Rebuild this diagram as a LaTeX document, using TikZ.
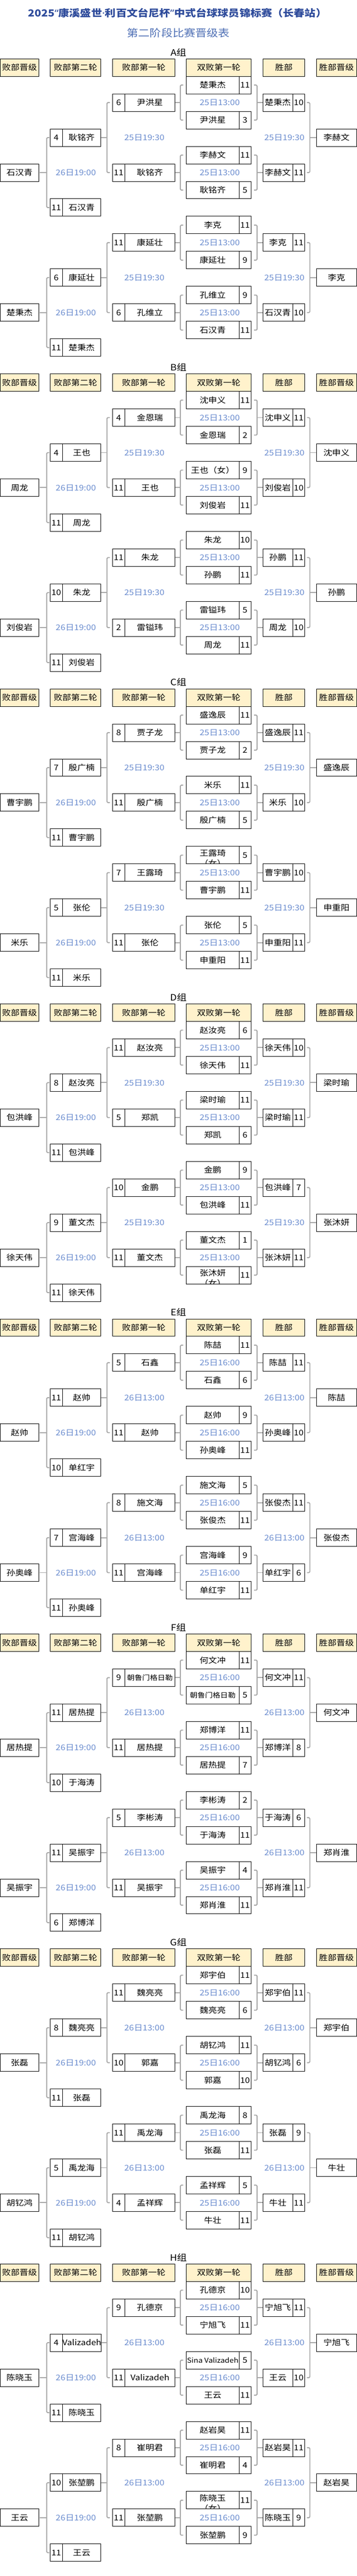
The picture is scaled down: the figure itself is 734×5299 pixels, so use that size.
\documentclass[tikz,border=0pt]{standalone}
\usepackage{fontspec}
\setmainfont{Noto Sans CJK SC}[FakeStretch=1.12]
\newfontfamily\latinfont{Noto Sans}[FakeStretch=1.12]
\definecolor{hdrcol}{HTML}{FFF2CC}
\definecolor{conncol}{HTML}{A6A6A6}
\definecolor{tmcol}{HTML}{6A8CCF}
\definecolor{ttlcol}{HTML}{2E4B9B}
\definecolor{subcol}{HTML}{4F70B5}
\newcommand\cellfont{\fontsize{16}{18}\selectfont}
\newcommand\smallcell{\fontsize{14}{16}\selectfont}
\newcommand\RowY[1]{139+648*\G+36*(#1)}
\def\G{0}
\def\tD{25日13:00}
\def\tM{25日19:30}
\tikzset{
  cellbox/.style={draw=black, line width=0.9pt, inner sep=0pt, outer sep=0pt, minimum height=36pt, anchor=west, font=\cellfont, text height=12pt, text depth=0pt},
  hdrbox/.style={cellbox, fill=hdrcol},
  txt/.style={inner sep=0pt, outer sep=0pt, font=\cellfont, text height=12pt, text depth=0pt},
  tmlabel/.style={txt, text=tmcol},
  conn/.style={draw=conncol, line width=2pt},
  brk/.style={conn, rounded corners=2pt},
  grplabel/.style={inner sep=0pt, font=\fontsize{18}{20}\selectfont, text height=13pt, text depth=0pt},
}
\newcommand\GroupHead[1]{%
  \node[grplabel] (lbl\G) at (367,{108+648*\G}) {#1组};
  \node[hdrbox, minimum width=79.5pt] (hA\G) at (0.5,{\RowY{0}}) {败部晋级};
  \node[hdrbox, minimum width=104.6pt] (hB\G) at (103,{\RowY{0}}) {败部第二轮};
  \node[hdrbox, minimum width=128.5pt] (hC\G) at (231.5,{\RowY{0}}) {败部第一轮};
  \node[hdrbox, minimum width=133pt] (hD\G) at (383.5,{\RowY{0}}) {双败第一轮};
  \node[hdrbox, minimum width=86pt] (hE\G) at (541,{\RowY{0}}) {胜部};
  \node[hdrbox, minimum width=82.5pt] (hF\G) at (651,{\RowY{0}}) {胜部晋级};
}
% #1 row k of first double-loss cell, #2/#3 name/score, #4/#5 name/score, #6/#7 loser-round-1 score/name, #8/#9 winner name/score
\newcommand\Quarter[9]{%
  \node[cellbox, minimum width=108.2pt] (dn\G-#1a) at (383.5,{\RowY{#1}}) {#2};
  \node[cellbox, minimum width=24.8pt] (ds\G-#1a) at (491.7,{\RowY{#1}}) {#3};
  \node[cellbox, minimum width=108.2pt] (dn\G-#1b) at (383.5,{\RowY{#1+2}}) {#4};
  \node[cellbox, minimum width=24.8pt] (ds\G-#1b) at (491.7,{\RowY{#1+2}}) {#5};
  \node[tmlabel] (td\G-#1) at (452,{\RowY{#1+1}}) {\tD};
  \node[cellbox, minimum width=25.3pt] (ls\G-#1) at (231.5,{\RowY{#1+1}}) {#6};
  \node[cellbox, minimum width=103.2pt] (ln\G-#1) at (256.8,{\RowY{#1+1}}) {#7};
  \node[cellbox, minimum width=61pt] (wn\G-#1) at (541,{\RowY{#1+1}}) {#8};
  \node[cellbox, minimum width=25pt] (ws\G-#1) at (602,{\RowY{#1+1}}) {#9};
  \draw[brk] ([xshift=-6.5pt]dn\G-#1a.west) -- ++(-6,0) |- ([xshift=-6.5pt]dn\G-#1b.west);
  \draw[conn] (ln\G-#1.east) -- ([xshift=-12.5pt]dn\G-#1a.west |- ln\G-#1.east);
  \draw[brk] ([xshift=6pt]ds\G-#1a.east) -- ++(6.5,0) |- ([xshift=6pt]ds\G-#1b.east);
  \draw[conn] ([xshift=12.5pt]ds\G-#1a.east |- wn\G-#1.west) -- (wn\G-#1.west);
}
% #1 base row b, #2/#3 loser-round-2 upper score/name, #4 winner-advance name, #5 loser-advance name, #6/#7 loser-round-2 lower score/name
\newcommand\Half[7]{%
  \pgfmathtruncatemacro\ka{#1+1}%
  \pgfmathtruncatemacro\kb{#1+5}%
  \node[cellbox, minimum width=25.4pt] (as\G-#1) at (103,{\RowY{#1+4}}) {#2};
  \node[cellbox, minimum width=79.2pt] (an\G-#1) at (128.4,{\RowY{#1+4}}) {#3};
  \node[cellbox, minimum width=25.4pt] (bs\G-#1) at (103,{\RowY{#1+8}}) {#6};
  \node[cellbox, minimum width=79.2pt] (bn\G-#1) at (128.4,{\RowY{#1+8}}) {#7};
  \node[cellbox, minimum width=82.5pt] (wj\G-#1) at (651,{\RowY{#1+4}}) {#4};
  \node[cellbox, minimum width=79.5pt] (lj\G-#1) at (0.5,{\RowY{#1+6}}) {#5};
  \node[tmlabel] (tm\G-#1) at (297,{\RowY{#1+4}}) {\tM};
  \node[tmlabel] (tw\G-#1) at (585,{\RowY{#1+4}}) {\tM};
  \node[tmlabel] (tl\G-#1) at (156,{\RowY{#1+6}}) {26日19:00};
  \draw[brk] ([xshift=4.5pt]ws\G-\ka.east) -- ++(6,0) |- ([xshift=4.5pt]ws\G-\kb.east);
  \draw[conn] ([xshift=10.5pt]ws\G-\ka.east |- wj\G-#1.west) -- (wj\G-#1.west);
  \draw[brk] ([xshift=-5.5pt]ls\G-\ka.west) -- ++(-6,0) |- ([xshift=-5.5pt]ls\G-\kb.west);
  \draw[conn] (an\G-#1.east) -- ([xshift=-11.5pt]ls\G-\ka.west |- an\G-#1.east);
  \draw[brk] ([xshift=-1pt]as\G-#1.west) -- ++(-6,0) |- ([xshift=-1pt]bs\G-#1.west);
  \draw[conn] ([xshift=1.5pt]lj\G-#1.east) -- ([xshift=-7pt]as\G-#1.west |- lj\G-#1.east);
}
% wrapped two-line name, second line cut by the cell
\newcommand\WrapCell[3]{%
  \node[txt] (#1-l1) at ([yshift=4pt]#1.center) {#2};
  \begin{scope}
    \clip (#1.south west) rectangle (#1.north east);
    \node[txt] (#1-l2) at ([yshift=-17pt]#1.center) {#3};
  \end{scope}
}
\begin{document}
\begin{tikzpicture}[x=1pt,y=-1pt]
\useasboundingbox[fill=white] (0,0) rectangle (734,5299);
\node[inner sep=0pt, text=ttlcol, font=\fontsize{20}{22}\selectfont\bfseries] (title) at (365,27) {2025{\latinfont “}康溪盛世{\latinfont ·}利百文台尼杯{\latinfont ”}中式台球球员锦标赛（长春站）};
\node[inner sep=0pt, text=subcol, font=\fontsize{21}{23}\selectfont] (subtitle) at (367,68) {第二阶段比赛晋级表};

% ---------- A ----------
\def\G{0}\def\tD{25日13:00}\def\tM{25日19:30}
\GroupHead{A}
\Quarter{1}{楚秉杰}{11}{尹洪星}{3}{6}{尹洪星}{楚秉杰}{10}
\Quarter{5}{李赫文}{11}{耿铭齐}{5}{11}{耿铭齐}{李赫文}{11}
\Half{0}{4}{耿铭齐}{李赫文}{石汉青}{11}{石汉青}
\Quarter{9}{李克}{11}{康延壮}{9}{11}{康延壮}{李克}{11}
\Quarter{13}{孔维立}{9}{石汉青}{11}{6}{孔维立}{石汉青}{10}
\Half{8}{6}{康延壮}{李克}{楚秉杰}{11}{楚秉杰}

% ---------- B ----------
\def\G{1}
\GroupHead{B}
\Quarter{1}{沈申义}{11}{金恩瑞}{2}{4}{金恩瑞}{沈申义}{11}
\Quarter{5}{王也（女）}{9}{刘俊岩}{11}{11}{王也}{刘俊岩}{10}
\Half{0}{4}{王也}{沈申义}{周龙}{11}{周龙}
\Quarter{9}{朱龙}{10}{孙鹏}{11}{11}{朱龙}{孙鹏}{11}
\Quarter{13}{雷镒玮}{5}{周龙}{11}{2}{雷镒玮}{周龙}{10}
\Half{8}{10}{朱龙}{孙鹏}{刘俊岩}{11}{刘俊岩}

% ---------- C ----------
\def\G{2}
\GroupHead{C}
\Quarter{1}{盛逸辰}{11}{贾子龙}{2}{8}{贾子龙}{盛逸辰}{11}
\Quarter{5}{米乐}{11}{殷广楠}{5}{11}{殷广楠}{米乐}{10}
\Half{0}{7}{殷广楠}{盛逸辰}{曹宇鹏}{11}{曹宇鹏}
\Quarter{9}{}{5}{曹宇鹏}{11}{7}{王露琦}{曹宇鹏}{10}
\WrapCell{dn2-9a}{王露琦}{（女）}
\Quarter{13}{张伦}{5}{申重阳}{11}{11}{张伦}{申重阳}{11}
\Half{8}{5}{张伦}{申重阳}{米乐}{11}{米乐}

% ---------- D ----------
\def\G{3}
\GroupHead{D}
\Quarter{1}{赵汝亮}{6}{徐天伟}{11}{11}{赵汝亮}{徐天伟}{10}
\Quarter{5}{梁时瑜}{11}{郑凯}{6}{5}{郑凯}{梁时瑜}{11}
\Half{0}{8}{赵汝亮}{梁时瑜}{包洪峰}{11}{包洪峰}
\Quarter{9}{金鹏}{9}{包洪峰}{11}{10}{金鹏}{包洪峰}{7}
\Quarter{13}{董文杰}{1}{}{11}{11}{董文杰}{张沐妍}{11}
\WrapCell{dn3-13b}{张沐妍}{（女）}
\Half{8}{9}{董文杰}{张沐妍}{徐天伟}{11}{徐天伟}

% ---------- E ----------
\def\G{4}\def\tD{25日16:00}\def\tM{26日13:00}
\GroupHead{E}
\Quarter{1}{陈喆}{11}{石鑫}{6}{5}{石鑫}{陈喆}{11}
\Quarter{5}{赵帅}{9}{孙奥峰}{11}{11}{赵帅}{孙奥峰}{10}
\Half{0}{11}{赵帅}{陈喆}{赵帅}{10}{单红宇}
\Quarter{9}{施文海}{5}{张俊杰}{11}{8}{施文海}{张俊杰}{11}
\Quarter{13}{宫海峰}{9}{单红宇}{11}{11}{宫海峰}{单红宇}{6}
\Half{8}{7}{宫海峰}{张俊杰}{孙奥峰}{11}{孙奥峰}

% ---------- F ----------
\def\G{5}
\GroupHead{F}
\Quarter{1}{何文冲}{11}{\smallcell 朝鲁门格日勒}{5}{9}{\smallcell 朝鲁门格日勒}{何文冲}{11}
\Quarter{5}{郑博洋}{11}{居热提}{7}{11}{居热提}{郑博洋}{8}
\Half{0}{11}{居热提}{何文冲}{居热提}{10}{于海涛}
\Quarter{9}{李彬涛}{2}{于海涛}{11}{5}{李彬涛}{于海涛}{6}
\Quarter{13}{吴振宇}{4}{郑肖淮}{11}{11}{吴振宇}{郑肖淮}{11}
\Half{8}{11}{吴振宇}{郑肖淮}{吴振宇}{6}{郑博洋}

% ---------- G ----------
\def\G{6}
\GroupHead{G}
\Quarter{1}{郑宇伯}{11}{魏亮亮}{6}{11}{魏亮亮}{郑宇伯}{11}
\Quarter{5}{胡钇鸿}{11}{郭嘉}{10}{10}{郭嘉}{胡钇鸿}{6}
\Half{0}{8}{魏亮亮}{郑宇伯}{张磊}{11}{张磊}
\Quarter{9}{禹龙海}{8}{张磊}{11}{11}{禹龙海}{张磊}{9}
\Quarter{13}{孟祥辉}{5}{牛壮}{11}{4}{孟祥辉}{牛壮}{11}
\Half{8}{5}{禹龙海}{牛壮}{胡钇鸿}{11}{胡钇鸿}

% ---------- H ----------
\def\G{7}
\GroupHead{H}
\Quarter{1}{孔德京}{10}{宁旭飞}{11}{9}{孔德京}{宁旭飞}{11}
\Quarter{5}{\smallcell Sina Valizadeh}{5}{王云}{11}{11}{Valizadeh}{王云}{10}
\Half{0}{4}{Valizadeh}{宁旭飞}{陈晓玉}{11}{陈晓玉}
\Quarter{9}{赵岩昊}{11}{崔明君}{4}{8}{崔明君}{赵岩昊}{11}
\Quarter{13}{}{11}{张堃鹏}{9}{11}{张堃鹏}{陈晓玉}{9}
\WrapCell{dn7-13a}{陈晓玉}{（女）}
\Half{8}{10}{张堃鹏}{赵岩昊}{王云}{11}{王云}
\end{tikzpicture}
\end{document}
